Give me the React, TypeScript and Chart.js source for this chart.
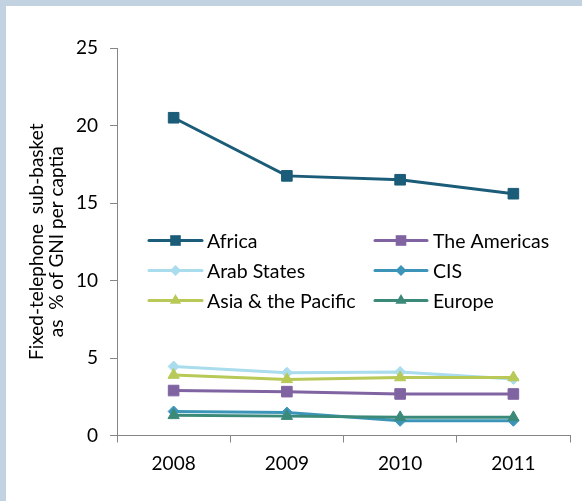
import React, { useEffect, useRef } from "react";
import { Chart, registerables } from "chart.js";

Chart.register(...registerables);

const years = ["2008", "2009", "2010", "2011"];
const seriesNames = ["Africa", "The Americas", "Arab States", "CIS", "Asia & the Pacific", "Europe"];
const africa = [20.5, 16.75, 16.5, 15.6];
const americas = [2.9, 2.83, 2.68, 2.68];
const arabStates = [4.45, 4.05, 4.1, 3.65];
const cis = [1.55, 1.48, 0.95, 0.95];
const asiaPacific = [3.9, 3.62, 3.74, 3.74];
const europe = [1.3, 1.25, 1.17, 1.17];
const seriesValues = [africa, americas, arabStates, cis, asiaPacific, europe];
const seriesColors = ["#1B5C78", "#8064A2", "#A9DCEC", "#3C95B8", "#B8C957", "#3B8A79"];
const seriesMarkers = ["rect", "rect", "rectRot", "rectRot", "triangle", "triangle"];
const markerRadius = [7.5, 7.5, 5.5, 5.5, 6.5, 6.5];
const yTicks = [0, 5, 10, 15, 20, 25];
const yTitle = ["Fixed-telephone  sub-basket", "as  % of GNI per captia"];

const FONT = "Lato";

function drawMarker(ctx: CanvasRenderingContext2D, style: string, r: number, x: number, y: number, color: string) {
  ctx.fillStyle = color;
  ctx.beginPath();
  if (style === "rect") {
    const s = Math.SQRT1_2 * r;
    ctx.rect(x - s, y - s, 2 * s, 2 * s);
  } else if (style === "rectRot") {
    ctx.moveTo(x - r, y);
    ctx.lineTo(x, y - r);
    ctx.lineTo(x + r, y);
    ctx.lineTo(x, y + r);
    ctx.closePath();
  } else {
    for (let k = 0; k < 3; k++) {
      const ang = -Math.PI / 2 + (k * 2 * Math.PI) / 3;
      const px = x + Math.cos(ang) * r;
      const py = y + Math.sin(ang) * r;
      if (k === 0) ctx.moveTo(px, py);
      else ctx.lineTo(px, py);
    }
    ctx.closePath();
  }
  ctx.fill();
}

const legendPlugin = {
  id: "insideLegend",
  afterDatasetsDraw(chart: any) {
    const ctx = chart.ctx;
    const cols = [
      { x0: 149, x1: 202, tx: 207 },
      { x0: 375, x1: 427, tx: 433 },
    ];
    const rows = [240.5, 270.5, 300.5];
    ctx.save();
    chart.data.datasets.forEach((ds: any, i: number) => {
      const c = cols[i % 2];
      const y = rows[Math.floor(i / 2)];
      ctx.strokeStyle = ds.borderColor;
      ctx.lineWidth = 3;
      ctx.lineCap = "round";
      ctx.beginPath();
      ctx.moveTo(c.x0, y);
      ctx.lineTo(c.x1, y);
      ctx.stroke();
      drawMarker(ctx, ds.pointStyle, ds.pointRadius, (c.x0 + c.x1) / 2, y, ds.borderColor);
      ctx.fillStyle = "#000";
      ctx.font = `19.5px ${FONT}`;
      ctx.textBaseline = "middle";
      ctx.textAlign = "left";
      ctx.fillText(ds.label, c.tx, y + 1);
    });
    ctx.restore();
  },
};

export default function App() {
  const ref = useRef<HTMLCanvasElement>(null);

  useEffect(() => {
    if (!ref.current) return;
    const chart = new Chart(ref.current, {
      type: "line",
      data: {
        labels: years,
        datasets: seriesNames.map((name, i) => ({
          label: name,
          data: seriesValues[i],
          borderColor: seriesColors[i],
          backgroundColor: seriesColors[i],
          pointBackgroundColor: seriesColors[i],
          pointBorderColor: seriesColors[i],
          pointStyle: seriesMarkers[i] as any,
          pointRadius: markerRadius[i],
          pointBorderWidth: 1,
          borderWidth: 3,
          tension: 0,
          order: seriesNames.length - i,
        })),
      },
      options: {
        animation: false,
        responsive: false,
        maintainAspectRatio: false,
        layout: { padding: { left: 0, right: 12, top: 48, bottom: 0 } },
        plugins: {
          legend: { display: false },
          tooltip: { enabled: false },
          title: { display: false },
        },
        scales: {
          x: {
            type: "category",
            offset: true,
            grid: {
              offset: true,
              drawOnChartArea: false,
              drawTicks: true,
              tickLength: 7,
              color: "#868686",
            },
            border: { color: "#868686", width: 1 },
            ticks: {
              color: "#000",
              font: { family: FONT, size: 19 },
              padding: 10,
            },
            afterFit: (s: any) => {
              s.height = 65.5;
            },
          },
          y: {
            min: 0,
            max: 25,
            afterBuildTicks: (s: any) => {
              s.ticks = yTicks.map((v) => ({ value: v }));
            },
            grid: {
              drawOnChartArea: false,
              drawTicks: true,
              tickLength: 7,
              color: "#868686",
            },
            border: { color: "#868686", width: 1 },
            ticks: {
              color: "#000",
              font: { family: FONT, size: 19 },
              padding: 12,
            },
            title: {
              display: true,
              text: yTitle,
              color: "#000",
              font: { family: FONT, size: 19, lineHeight: 20 / 19 },
              padding: { top: 27, bottom: 0 },
            },
            afterFit: (s: any) => {
              s.width = 117;
            },
          },
        },
      },
      plugins: [legendPlugin],
    });
    return () => chart.destroy();
  }, []);

  return (
    <div
      style={{
        position: "fixed",
        left: 0,
        top: 0,
        width: 582,
        height: 501,
        background: "#C3D2E0",
        overflow: "hidden",
      }}
    >
      <div
        style={{
          position: "absolute",
          left: 6,
          top: 6,
          right: 0,
          bottom: 0,
          background: "#FFFFFF",
        }}
      />
      <canvas
        ref={ref}
        width={582}
        height={501}
        style={{ position: "absolute", left: 0, top: 0, width: 582, height: 501 }}
      />
    </div>
  );
}
